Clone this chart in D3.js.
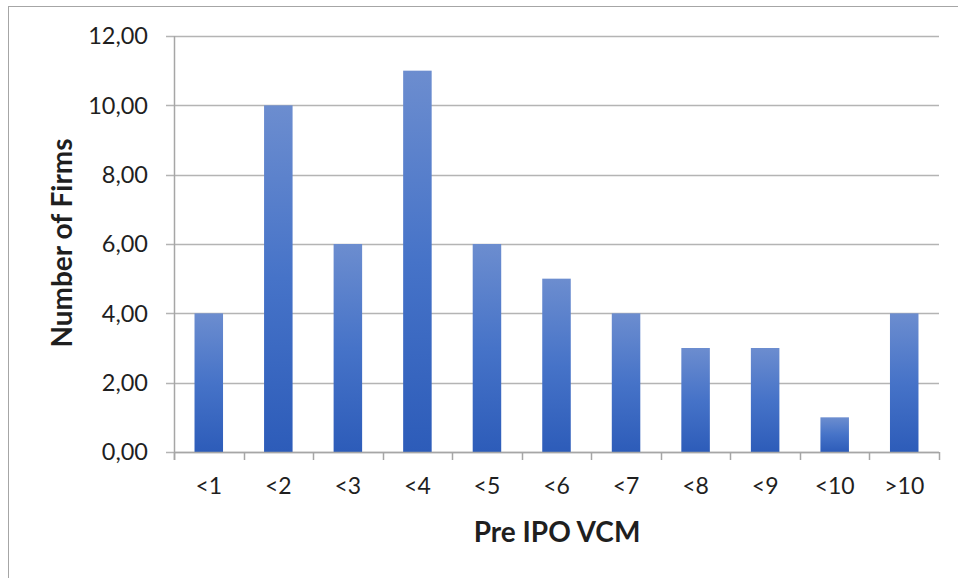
<!DOCTYPE html>
<html>
<head>
<meta charset="utf-8">
<script src="https://cdn.jsdelivr.net/npm/d3@7"></script>
<style>
  body { margin: 0; background: #fff; }
  svg { display: block; font-family: Lato, "Open Sans", sans-serif; }
</style>
</head>
<body>
<div id="chart"></div>
<script>
// chart data
var categories = ["<1", "<2", "<3", "<4", "<5", "<6", "<7", "<8", "<9", "<10", ">10"];
var firms = [4, 10, 6, 11, 6, 5, 4, 3, 3, 1, 4];
var yTicks = [0, 2, 4, 6, 8, 10, 12];

var width = 958, height = 578;
var margin = { top: 36, right: 19, bottom: 126, left: 174 };

var svg = d3.select("#chart")
    .append("svg")
    .attr("width", width)
    .attr("height", height);

// gradient for bars, lighter at the top
var grad = svg.append("defs").append("linearGradient")
    .attr("id", "barGrad")
    .attr("x1", 0).attr("y1", 0).attr("x2", 0).attr("y2", 1);
grad.append("stop").attr("offset", "0%").attr("stop-color", "#6c8dcf");
grad.append("stop").attr("offset", "50%").attr("stop-color", "#4673c8");
grad.append("stop").attr("offset", "100%").attr("stop-color", "#2d5cb9");

// outer chart border (right and bottom fall outside the window)
svg.append("rect")
    .attr("x", 8.5).attr("y", 6.5)
    .attr("width", width).attr("height", height)
    .attr("fill", "none")
    .attr("stroke", "#a6a6a6")
    .attr("stroke-width", 1);

var x = d3.scaleBand()
    .domain(categories)
    .range([margin.left, width - margin.right])
    .paddingInner(0.59)
    .paddingOuter(0.295);

var y = d3.scaleLinear()
    .domain([0, 12])
    .range([height - margin.bottom, margin.top]);

// gridlines
svg.append("g")
    .selectAll("line")
    .data(yTicks)
    .enter().append("line")
    .attr("x1", margin.left - 8)
    .attr("x2", width - margin.right)
    .attr("y1", function (d) { return Math.round(y(d)) + 0.5; })
    .attr("y2", function (d) { return Math.round(y(d)) + 0.5; })
    .attr("stroke", "#b4b4b4")
    .attr("stroke-width", 1.5);

// y axis line
svg.append("line")
    .attr("x1", margin.left + 0.5).attr("x2", margin.left + 0.5)
    .attr("y1", margin.top).attr("y2", height - margin.bottom + 8)
    .attr("stroke", "#a6a6a6")
    .attr("stroke-width", 1.5);

// y tick labels
svg.append("g")
    .selectAll("text")
    .data(yTicks)
    .enter().append("text")
    .attr("x", 148)
    .attr("y", function (d) { return y(d); })
    .attr("dy", "0.36em")
    .attr("text-anchor", "end")
    .attr("font-size", "23.5px")
    .attr("fill", "#1f1f1f")
    .text(function (d) { return d3.format(".2f")(d).replace(".", ","); });

// bars
svg.append("g")
    .selectAll("rect")
    .data(firms)
    .enter().append("rect")
    .attr("x", function (d, i) { return x(categories[i]); })
    .attr("y", function (d) { return y(d); })
    .attr("width", x.bandwidth())
    .attr("height", function (d) { return y(0) - y(d); })
    .attr("fill", "url(#barGrad)");

// x axis with category ticks between bars
var xAxis = d3.axisBottom(x)
    .tickSize(0)
    .tickPadding(26);

var gx = svg.append("g")
    .attr("transform", "translate(0," + (height - margin.bottom) + ")")
    .call(xAxis);
gx.select(".domain").remove();
gx.selectAll("text")
    .attr("font-size", "23px")
    .attr("font-family", "Lato, 'Open Sans', sans-serif")
    .attr("fill", "#1f1f1f");

var step = x.step();
var boundaries = d3.range(categories.length + 1).map(function (i) { return margin.left + i * step; });
svg.append("g")
    .selectAll("line")
    .data(boundaries)
    .enter().append("line")
    .attr("x1", function (d) { return Math.round(d) + 0.5; })
    .attr("x2", function (d) { return Math.round(d) + 0.5; })
    .attr("y1", y(0))
    .attr("y2", y(0) + 8)
    .attr("stroke", "#a6a6a6")
    .attr("stroke-width", 1.5);

svg.append("line")
    .attr("x1", margin.left).attr("x2", width - margin.right)
    .attr("y1", Math.round(y(0)) + 0.5).attr("y2", Math.round(y(0)) + 0.5)
    .attr("stroke", "#a6a6a6")
    .attr("stroke-width", 1.5);

// axis titles
svg.append("text")
    .attr("x", 557)
    .attr("y", 542)
    .attr("text-anchor", "middle")
    .attr("font-size", "28px")
    .attr("font-weight", "bold")
    .attr("fill", "#1f1f1f")
    .text("Pre IPO VCM");

svg.append("text")
    .attr("transform", "translate(72," + 243 + ") rotate(-90)")
    .attr("text-anchor", "middle")
    .attr("font-size", "28px")
    .attr("font-weight", "bold")
    .attr("fill", "#1f1f1f")
    .text("Number of Firms");
</script>
</body>
</html>
